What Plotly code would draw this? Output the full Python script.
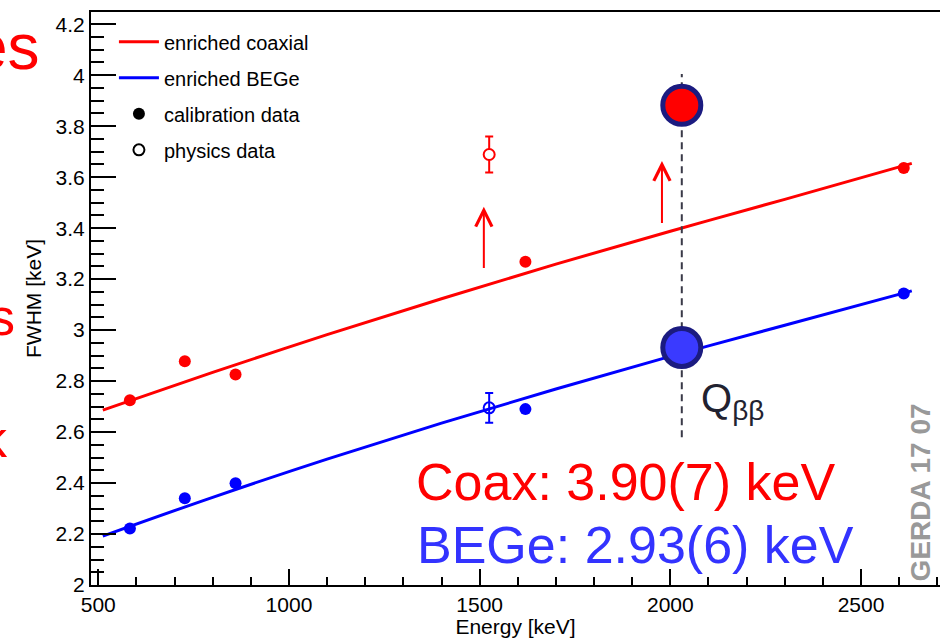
import plotly.graph_objects as go

# ---------------- data ----------------
# calibration lines (filled markers)
cal_energy = [583, 727, 860, 1620, 2612]
coax_cal_fwhm = [2.725, 2.878, 2.826, 3.268, 3.636]
bege_cal_fwhm = [2.222, 2.340, 2.399, 2.690, 3.144]

# physics data (open markers, 42K line)
phys_energy = [1525]
coax_phys_fwhm = [3.689]
coax_phys_err = [0.071]
bege_phys_fwhm = [2.695]
bege_phys_err = [0.058]

# fitted resolution curves
fit_energy = [512, 800, 1100, 1400, 1700, 2000, 2300, 2633]
coax_fit_fwhm = [2.686, 2.834, 2.982, 3.123, 3.259, 3.388, 3.513, 3.654]
bege_fit_fwhm = [2.192, 2.344, 2.494, 2.635, 2.769, 2.897, 3.019, 3.154]

# Q_bb values
qbb_energy = [2030]
qbb_coax = [3.882]
qbb_bege = [2.932]
qbb_line_y = [2.58, 4.005]

# shift arrows (physics vs calibration)
arrow_energy = [1511, 1978]
arrow_from = [3.238, 3.414]
arrow_to = [3.484, 3.663]

coax_label = "Coax: 3.90(7) keV"
bege_label = "BEGe: 2.93(6) keV"
legend_names = ["enriched coaxial", "enriched BEGe", "calibration data", "physics data"]

RED = "#ff0000"
BLUE = "#0000ff"
BLUE_LIGHT = "#3a3aff"
NAVY = "#1b1b80"
FONT = "Liberation Sans, Arial, sans-serif"

# ---------------- figure ----------------
fig = go.Figure()

# physics data points (drawn first so fit lines pass over them)
fig.add_trace(go.Scatter(
    x=phys_energy, y=coax_phys_fwhm, mode="markers", showlegend=False,
    marker=dict(symbol="circle", size=11, color="white", line=dict(color=RED, width=2)),
    error_y=dict(type="data", array=coax_phys_err, color=RED, thickness=2, width=4)))
fig.add_trace(go.Scatter(
    x=phys_energy, y=bege_phys_fwhm, mode="markers", showlegend=False,
    marker=dict(symbol="circle", size=11, color="rgba(255,255,255,0)", line=dict(color=BLUE, width=2)),
    error_y=dict(type="data", array=bege_phys_err, color=BLUE, thickness=2, width=4)))

# fit curves (legend entries)
fig.add_trace(go.Scatter(
    x=fit_energy, y=coax_fit_fwhm, mode="lines", name=legend_names[0],
    legendgroup="g1", line=dict(color=RED, width=3, shape="spline")))
fig.add_trace(go.Scatter(
    x=fit_energy, y=bege_fit_fwhm, mode="lines", name=legend_names[1],
    legendgroup="g2", line=dict(color=BLUE, width=3, shape="spline")))

# calibration points
fig.add_trace(go.Scatter(
    x=cal_energy, y=coax_cal_fwhm, mode="markers", showlegend=False,
    marker=dict(symbol="circle", size=12, color=RED)))
fig.add_trace(go.Scatter(
    x=cal_energy, y=bege_cal_fwhm, mode="markers", showlegend=False,
    marker=dict(symbol="circle", size=12, color=BLUE)))

# legend-only entries for marker styles
fig.add_trace(go.Scatter(
    x=[None], y=[None], mode="markers", name=legend_names[2], legendgroup="g3",
    marker=dict(symbol="circle", size=12, color="black")))
fig.add_trace(go.Scatter(
    x=[None], y=[None], mode="markers", name=legend_names[3], legendgroup="g4",
    marker=dict(symbol="circle-open", size=11, color="black", line=dict(width=2))))

# Q_bb dashed line
fig.add_trace(go.Scatter(
    x=[qbb_energy[0], qbb_energy[0]], y=qbb_line_y, mode="lines", showlegend=False,
    line=dict(color="#3a3a48", width=2, dash="7px,5px")))

# Q_bb resolution markers
fig.add_trace(go.Scatter(
    x=qbb_energy, y=qbb_coax, mode="markers", showlegend=False,
    marker=dict(symbol="circle", size=38, color=RED, line=dict(color=NAVY, width=5))))
fig.add_trace(go.Scatter(
    x=qbb_energy, y=qbb_bege, mode="markers", showlegend=False,
    marker=dict(symbol="circle", size=38, color=BLUE_LIGHT, line=dict(color=NAVY, width=5))))

# arrows
for xe, y0, y1 in zip(arrow_energy, arrow_from, arrow_to):
    fig.add_annotation(x=xe, y=y1, ax=xe, ay=y0, xref="x", yref="y", axref="x", ayref="y",
                       showarrow=True, arrowhead=5, arrowsize=1.6, arrowwidth=2,
                       arrowcolor=RED, text="", standoff=0)

annos = [
    dict(x=1327, y=2.405, xref="x", yref="y", text=coax_label, xanchor="left", yanchor="middle",
         font=dict(size=52, color=RED, family=FONT)),
    dict(x=1330, y=2.158, xref="x", yref="y", text=bege_label, xanchor="left", yanchor="middle",
         font=dict(size=52, color="#3333ff", family=FONT)),
    dict(x=2076, y=2.72, xref="x", yref="y", text="Q<sub>ββ</sub>", xanchor="left", yanchor="middle",
         font=dict(size=40, color="#222230", family=FONT)),
    dict(x=2657, y=2.363, xref="x", yref="y", text="<b>GERDA 17 07</b>", textangle=-90,
         xanchor="center", yanchor="middle", font=dict(size=28, color="#999999", family=FONT)),
    # fragments of slide text cut by the image edge
    dict(x=-0.058, y=0.9387, xref="paper", yref="paper", text="es", xanchor="right", yanchor="middle",
         font=dict(size=64, color=RED, family=FONT)),
    dict(x=-0.0872, y=0.4675, xref="paper", yref="paper", text="s", xanchor="right", yanchor="middle",
         font=dict(size=52, color=RED, family=FONT)),
    dict(x=-0.0954, y=0.2547, xref="paper", yref="paper", text="k", xanchor="right", yanchor="middle",
         font=dict(size=52, color=RED, family=FONT)),
]
for a in annos:
    fig.add_annotation(showarrow=False, **a)

fig.update_layout(
    width=940, height=638,
    margin=dict(l=91, r=0, t=12, b=53),
    paper_bgcolor="white", plot_bgcolor="white",
    font=dict(family=FONT, color="black", size=20),
    showlegend=True,
    legend=dict(x=0.027, y=0.982, xanchor="left", yanchor="top",
                bgcolor="rgba(255,255,255,0)", font=dict(size=20, family=FONT),
                tracegroupgap=7, itemwidth=40, traceorder="grouped"),
    xaxis=dict(range=[481, 2707], tick0=0, dtick=500, ticks="inside", ticklen=16, tickwidth=2,
               tickcolor="black", showline=True, linewidth=2, linecolor="black", mirror=True,
               showgrid=False, zeroline=False, tickfont=dict(size=21, family=FONT),
               minor=dict(dtick=100, tick0=0, ticks="inside", ticklen=8, tickwidth=2,
                          tickcolor="black", showgrid=False),
               title=dict(text="Energy [keV]", font=dict(size=21, family=FONT), standoff=2)),
    yaxis=dict(range=[2, 4.248], tick0=2, dtick=0.2, ticks="inside", ticklen=25, tickwidth=2,
               tickcolor="black", showline=True, linewidth=2, linecolor="black", mirror=False,
               showgrid=False, zeroline=False, tickfont=dict(size=21, family=FONT),
               minor=dict(dtick=0.05, tick0=2, ticks="inside", ticklen=13, tickwidth=2,
                          tickcolor="black", showgrid=False),
               title=dict(text="FWHM [keV]", font=dict(size=21, family=FONT), standoff=8)),
)

fig.write_html("out.html")
